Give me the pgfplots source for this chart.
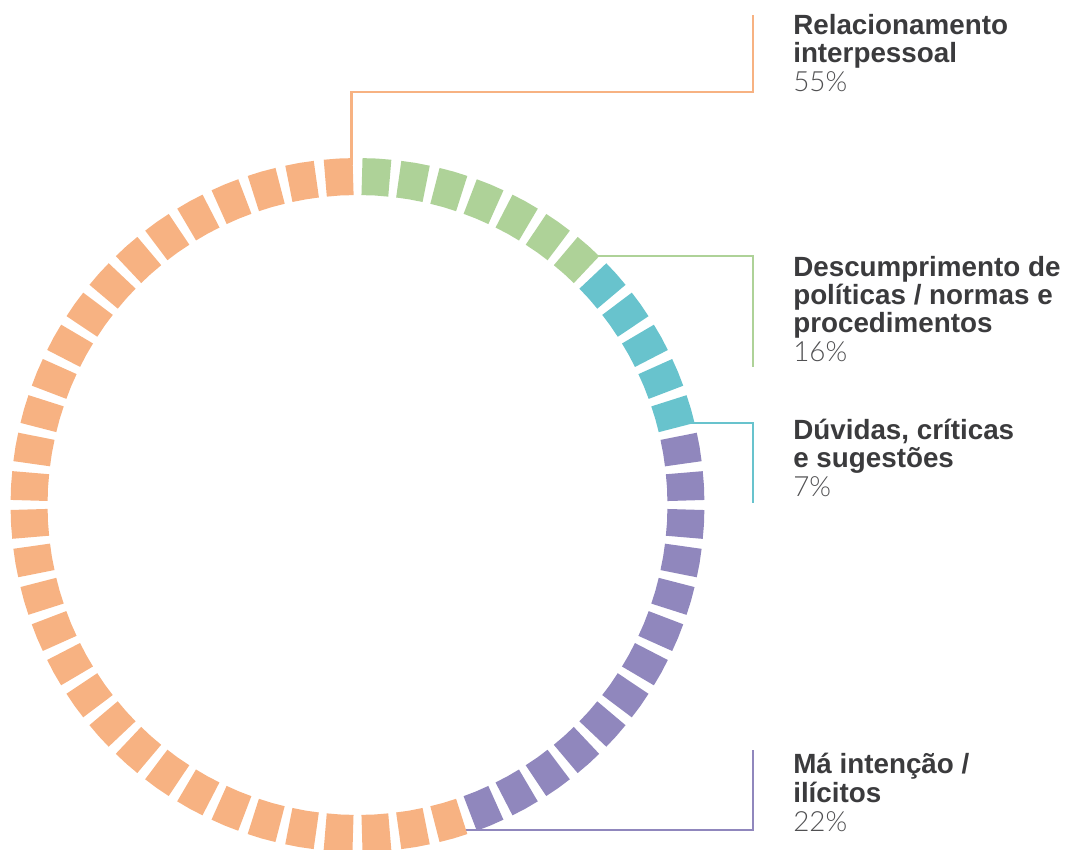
\documentclass[border=0pt]{standalone}
\usepackage{pgfplots}
\pgfplotsset{compat=1.18}
\usepackage{fontspec}
\setmainfont{Liberation Sans}
\newfontfamily\pctfont{Lato Light}
\definecolor{cOrange}{HTML}{F7B282}
\definecolor{cGreen}{HTML}{AED298}
\definecolor{cTeal}{HTML}{68C3CD}
\definecolor{cPurple}{HTML}{9087BD}
\definecolor{cText}{HTML}{3B3B3D}
\definecolor{cPct}{HTML}{505052}
\pgfplotsset{
  seg/.style={line width=27.75pt, dash pattern=on 20.890pt off 6.75pt, dash phase=24.265pt},
  lead/.style={line width=1.6pt},
}
\tikzset{
  lbl/.style={anchor=base west, font=\fontsize{20.85}{25}\selectfont\bfseries, text=cText, inner sep=0pt},
  pct/.style={anchor=base west, font=\fontsize{20.85}{25}\selectfont\pctfont, text=cPct, inner sep=0pt},
}
\begin{document}
\begin{tikzpicture}
\begin{axis}[
  scale only axis, width=798.75pt, height=637.5pt,
  xmin=-357.5, xmax=707.5, ymin=-345, ymax=505,
  axis line style={draw=none}, xtick=\empty, ytick=\empty,
]
% leader lines
\addplot[lead, cOrange] coordinates {(-6,340) (-6,413) (395.5,413) (395.5,490)};
\addplot[lead, cGreen] coordinates {(236,249) (395.5,249) (395.5,138)};
\addplot[lead, cTeal] coordinates {(330,82) (395.5,82) (395.5,2)};
\addplot[lead, cPurple] coordinates {(108,-325) (395.5,-325) (395.5,-245)};

% donut segments: (angle, radius); 56 segments, 7 green, 5 teal, 13 purple, 31 orange
\addplot[seg, cGreen, data cs=polar] coordinates {
(90,328.5) (86.786,328.5) (83.571,328.5) (80.357,328.5) (77.143,328.5) (73.929,328.5)
(70.714,328.5) (67.5,328.5) (64.286,328.5) (61.071,328.5) (57.857,328.5) (54.643,328.5)
(51.429,328.5) (48.214,328.5) (45,328.5)};
\addplot[seg, cTeal, data cs=polar] coordinates {
(45,328.5) (41.786,328.5) (38.571,328.5) (35.357,328.5) (32.143,328.5) (28.929,328.5)
(25.714,328.5) (22.5,328.5) (19.286,328.5) (16.071,328.5) (12.857,328.5)};
\addplot[seg, cPurple, data cs=polar] coordinates {
(12.857,328.5) (9.643,328.5) (6.429,328.5) (3.214,328.5) (0,328.5) (-3.214,328.5)
(-6.429,328.5) (-9.643,328.5) (-12.857,328.5) (-16.071,328.5) (-19.286,328.5) (-22.5,328.5)
(-25.714,328.5) (-28.929,328.5) (-32.143,328.5) (-35.357,328.5) (-38.571,328.5) (-41.786,328.5)
(-45,328.5) (-48.214,328.5) (-51.429,328.5) (-54.643,328.5) (-57.857,328.5) (-61.071,328.5)
(-64.286,328.5) (-67.5,328.5) (-70.714,328.5)};
\addplot[seg, cOrange, data cs=polar] coordinates {
(-70.714,328.5) (-73.929,328.5) (-77.143,328.5) (-80.357,328.5) (-83.571,328.5) (-86.786,328.5)
(-90,328.5) (-93.214,328.5) (-96.429,328.5) (-99.643,328.5) (-102.857,328.5) (-106.071,328.5)
(-109.286,328.5) (-112.5,328.5) (-115.714,328.5) (-118.929,328.5) (-122.143,328.5) (-125.357,328.5)
(-128.571,328.5) (-131.786,328.5) (-135,328.5) (-138.214,328.5) (-141.429,328.5) (-144.643,328.5)
(-147.857,328.5) (-151.071,328.5) (-154.286,328.5) (-157.5,328.5) (-160.714,328.5) (-163.929,328.5)
(-167.143,328.5) (-170.357,328.5) (-173.571,328.5) (-176.786,328.5) (-180,328.5) (-183.214,328.5)
(-186.429,328.5) (-189.643,328.5) (-192.857,328.5) (-196.071,328.5) (-199.286,328.5) (-202.5,328.5)
(-205.714,328.5) (-208.929,328.5) (-212.143,328.5) (-215.357,328.5) (-218.571,328.5) (-221.786,328.5)
(-225,328.5) (-228.214,328.5) (-231.429,328.5) (-234.643,328.5) (-237.857,328.5) (-241.071,328.5)
(-244.286,328.5) (-247.5,328.5) (-250.714,328.5) (-253.929,328.5) (-257.143,328.5) (-260.357,328.5)
(-263.571,328.5) (-266.786,328.5) (-270,328.5)};

% labels
\node[lbl] at (axis cs:435.5,470) {Relacionamento};
\node[lbl] at (axis cs:435.5,442) {interpessoal};
\node[pct] at (axis cs:435.5,413) {55\%};

\node[lbl] at (axis cs:435.5,228) {Descumprimento de};
\node[lbl] at (axis cs:435.5,200) {políticas / normas e};
\node[lbl] at (axis cs:435.5,172) {procedimentos};
\node[pct] at (axis cs:435.5,143) {16\%};

\node[lbl] at (axis cs:435.5,65) {Dúvidas, críticas};
\node[lbl] at (axis cs:435.5,37) {e sugestões};
\node[pct] at (axis cs:435.5,8) {7\%};

\node[lbl] at (axis cs:435.5,-269) {Má intenção /};
\node[lbl] at (axis cs:435.5,-298) {ilícitos};
\node[pct] at (axis cs:435.5,-327) {22\%};
\end{axis}
\end{tikzpicture}
\end{document}
